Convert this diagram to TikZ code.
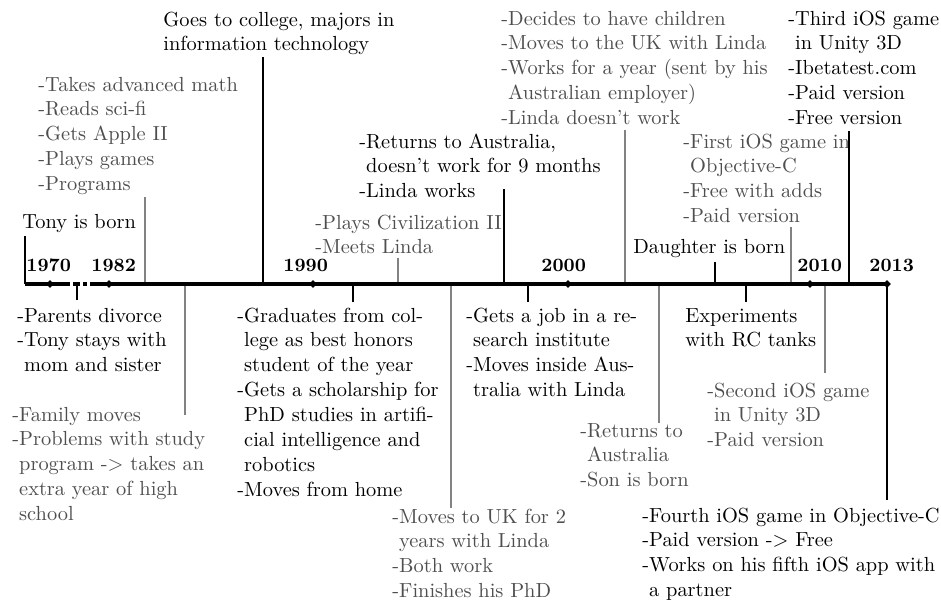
\documentclass[tikz,border=0pt]{standalone}
\usetikzlibrary{shapes.geometric}
\definecolor{txtgray}{RGB}{78,78,78}
\definecolor{linegray}{RGB}{130,130,130}
\newcommand{\hang}{\phantom{-}}
% lines of an event, with the baseline of the first line as the node's base
\newcommand{\evlines}[1]{\begin{tabular}[t]{@{}l@{}}#1\end{tabular}}
\begin{document}
\begin{tikzpicture}[x=0.5pt,y=-0.5pt,
  ev/.style={anchor=base west, inner sep=0pt,
    font=\fontsize{10.2}{12.45}\selectfont},
  evblack/.style={ev, text=black},
  evgray/.style={ev, text=txtgray},
  yearlabel/.style={anchor=base west, inner sep=0pt,
    font=\fontsize{9.4}{11}\selectfont\bfseries},
  axisline/.style={line width=2.4pt},
  yeartick/.style={shape=diamond, fill=black, inner sep=0pt, minimum size=4pt},
  linkblack/.style={draw=black, line width=0.65pt},
  linkgray/.style={draw=linegray, line width=0.65pt},
]
\useasboundingbox (0,0) rectangle (941,602);

% ---------- points on the time axis ----------
\coordinate (t1970) at (50,284);
\coordinate (t1982) at (109,284);
\coordinate (t1990) at (313,284);
\coordinate (t2000) at (568,284);
\coordinate (t2010) at (810,284);
\coordinate (t2013) at (887,284);

\coordinate (axStart) at (25,284);
\coordinate (axBreakA) at (70,284);
\coordinate (dotAa) at (73,284);
\coordinate (dotAb) at (80,284);
\coordinate (dotBa) at (83,284);
\coordinate (dotBb) at (87,284);
\coordinate (axBreakB) at (90,284);

% ---------- events above the axis ----------
\node[evblack] (born) at (22,228) {Tony is born};
\node[evgray] (school) at (38,91)
  {\evlines{-Takes advanced math\\-Reads sci-fi\\-Gets Apple II\\-Plays games\\-Programs}};
\node[evblack] (college) at (163,26)
  {\evlines{Goes to college, majors in\\information technology}};
\node[evgray] (civ) at (315,229) {\evlines{-Plays Civilization II\\-Meets Linda}};
\node[evblack] (backAU) at (359,148)
  {\evlines{-Returns to Australia,\\\hang doesn't work for 9 months\\-Linda works}};
\node[evgray] (children) at (501,25)
  {\evlines{-Decides to have children\\-Moves to the UK with Linda\\-Works for a year (sent by his\\\hang Australian employer)\\-Linda doesn't work}};
\node[evblack] (daughter) at (633,253) {Daughter is born};
\node[evgray] (firstios) at (683,148)
  {\evlines{-First iOS game in\\\hang Objective-C\\-Free with adds\\-Paid version}};
\node[evblack] (thirdios) at (788,25)
  {\evlines{-Third iOS game\\\hang in Unity 3D\\-Ibetatest.com\\-Paid version\\-Free version}};

% ---------- events below the axis ----------
\node[evblack] (divorce) at (17,322)
  {\evlines{-Parents divorce\\-Tony stays with\\\hang mom and sister}};
\node[evgray] (family) at (12,421)
  {\evlines{-Family moves\\-Problems with study\\\hang program -> takes an\\\hang extra year of high\\\hang school}};
\node[evblack] (graduate) at (237,322)
  {\evlines{-Graduates from col-\\\hang lege as best honors\\\hang student of the year\\-Gets a scholarship for\\\hang PhD studies in artifi-\\\hang cial intelligence and\\\hang robotics\\-Moves from home}};
\node[evgray] (phd) at (392,523)
  {\evlines{-Moves to UK for 2\\\hang years with Linda\\-Both work\\-Finishes his PhD}};
\node[evblack] (job) at (466,322)
  {\evlines{-Gets a job in a re-\\\hang search institute\\-Moves inside Aus-\\\hang tralia with Linda}};
\node[evgray] (son) at (580,437)
  {\evlines{-Returns to\\\hang Australia\\-Son is born}};
\node[evblack] (tanks) at (685,322) {\evlines{Experiments\\with RC tanks}};
\node[evgray] (secondios) at (707,397)
  {\evlines{-Second iOS game\\\hang in Unity 3D\\-Paid version}};
\node[evblack] (fourthios) at (642,522)
  {\evlines{-Fourth iOS game in Objective-C\\-Paid version -> Free\\-Works on his fifth iOS app with\\\hang a partner}};

% ---------- connector ends ----------
\coordinate (cBorn) at (25,236);      \coordinate (aBorn) at (25,284);
\coordinate (cSchool) at (145,197);   \coordinate (aSchool) at (145,284);
\coordinate (cCollege) at (263,57);   \coordinate (aCollege) at (263,284);
\coordinate (cCiv) at (398,258);      \coordinate (aCiv) at (398,284);
\coordinate (cBackAU) at (504,189);   \coordinate (aBackAU) at (504,284);
\coordinate (cChildren) at (625,130); \coordinate (aChildren) at (625,284);
\coordinate (cDaughter) at (715,262); \coordinate (aDaughter) at (715,284);
\coordinate (cFirst) at (791,227);    \coordinate (aFirst) at (791,284);
\coordinate (cThird) at (849,131);    \coordinate (aThird) at (849,284);

\coordinate (cDivorce) at (77,300);   \coordinate (aDivorce) at (77,284);
\coordinate (cFamily) at (185,415);   \coordinate (aFamily) at (185,284);
\coordinate (cGraduate) at (353,302); \coordinate (aGraduate) at (353,284);
\coordinate (cPhd) at (451,508);      \coordinate (aPhd) at (451,284);
\coordinate (cJob) at (528,302);      \coordinate (aJob) at (528,284);
\coordinate (cSon) at (659,423);      \coordinate (aSon) at (659,284);
\coordinate (cTanks) at (746,302);    \coordinate (aTanks) at (746,284);
\coordinate (cSecond) at (825,373);   \coordinate (aSecond) at (825,284);
\coordinate (cFourth) at (887,500);   \coordinate (aFourth) at (887,284);

% ---------- connectors ----------
\draw[linkblack] (cBorn) -- (aBorn);
\draw[linkgray]  (cSchool) -- (aSchool);
\draw[linkblack] (cCollege) -- (aCollege);
\draw[linkgray]  (cCiv) -- (aCiv);
\draw[linkblack] (cBackAU) -- (aBackAU);
\draw[linkgray]  (cChildren) -- (aChildren);
\draw[linkblack] (cDaughter) -- (aDaughter);
\draw[linkgray]  (cFirst) -- (aFirst);
\draw[linkblack] (cThird) -- (aThird);

\draw[linkblack] (cDivorce) -- (aDivorce);
\draw[linkgray]  (cFamily) -- (aFamily);
\draw[linkblack] (cGraduate) -- (aGraduate);
\draw[linkgray]  (cPhd) -- (aPhd);
\draw[linkblack] (cJob) -- (aJob);
\draw[linkgray]  (cSon) -- (aSon);
\draw[linkblack] (cTanks) -- (aTanks);
\draw[linkgray]  (cSecond) -- (aSecond);
\draw[linkblack] (cFourth) -- (aFourth);

% ---------- the axis with its break ----------
\draw[axisline] (axStart) -- (axBreakA);
\draw[axisline] (dotAa) -- (dotAb);
\draw[axisline] (dotBa) -- (dotBb);
\draw[axisline] (axBreakB) -- (t2013);

\foreach \t in {t1970,t1982,t1990,t2000,t2010,t2013}
  \node[yeartick] at (\t) {};

% ---------- year labels ----------
\node[yearlabel] (y1970) at (26,271) {1970};
\node[yearlabel] (y1982) at (91,271) {1982};
\node[yearlabel] (y1990) at (283,271) {1990};
\node[yearlabel] (y2000) at (541,271) {2000};
\node[yearlabel] (y2010) at (797,271) {2010};
\node[yearlabel] (y2013) at (869,271) {2013};
\end{tikzpicture}
\end{document}
